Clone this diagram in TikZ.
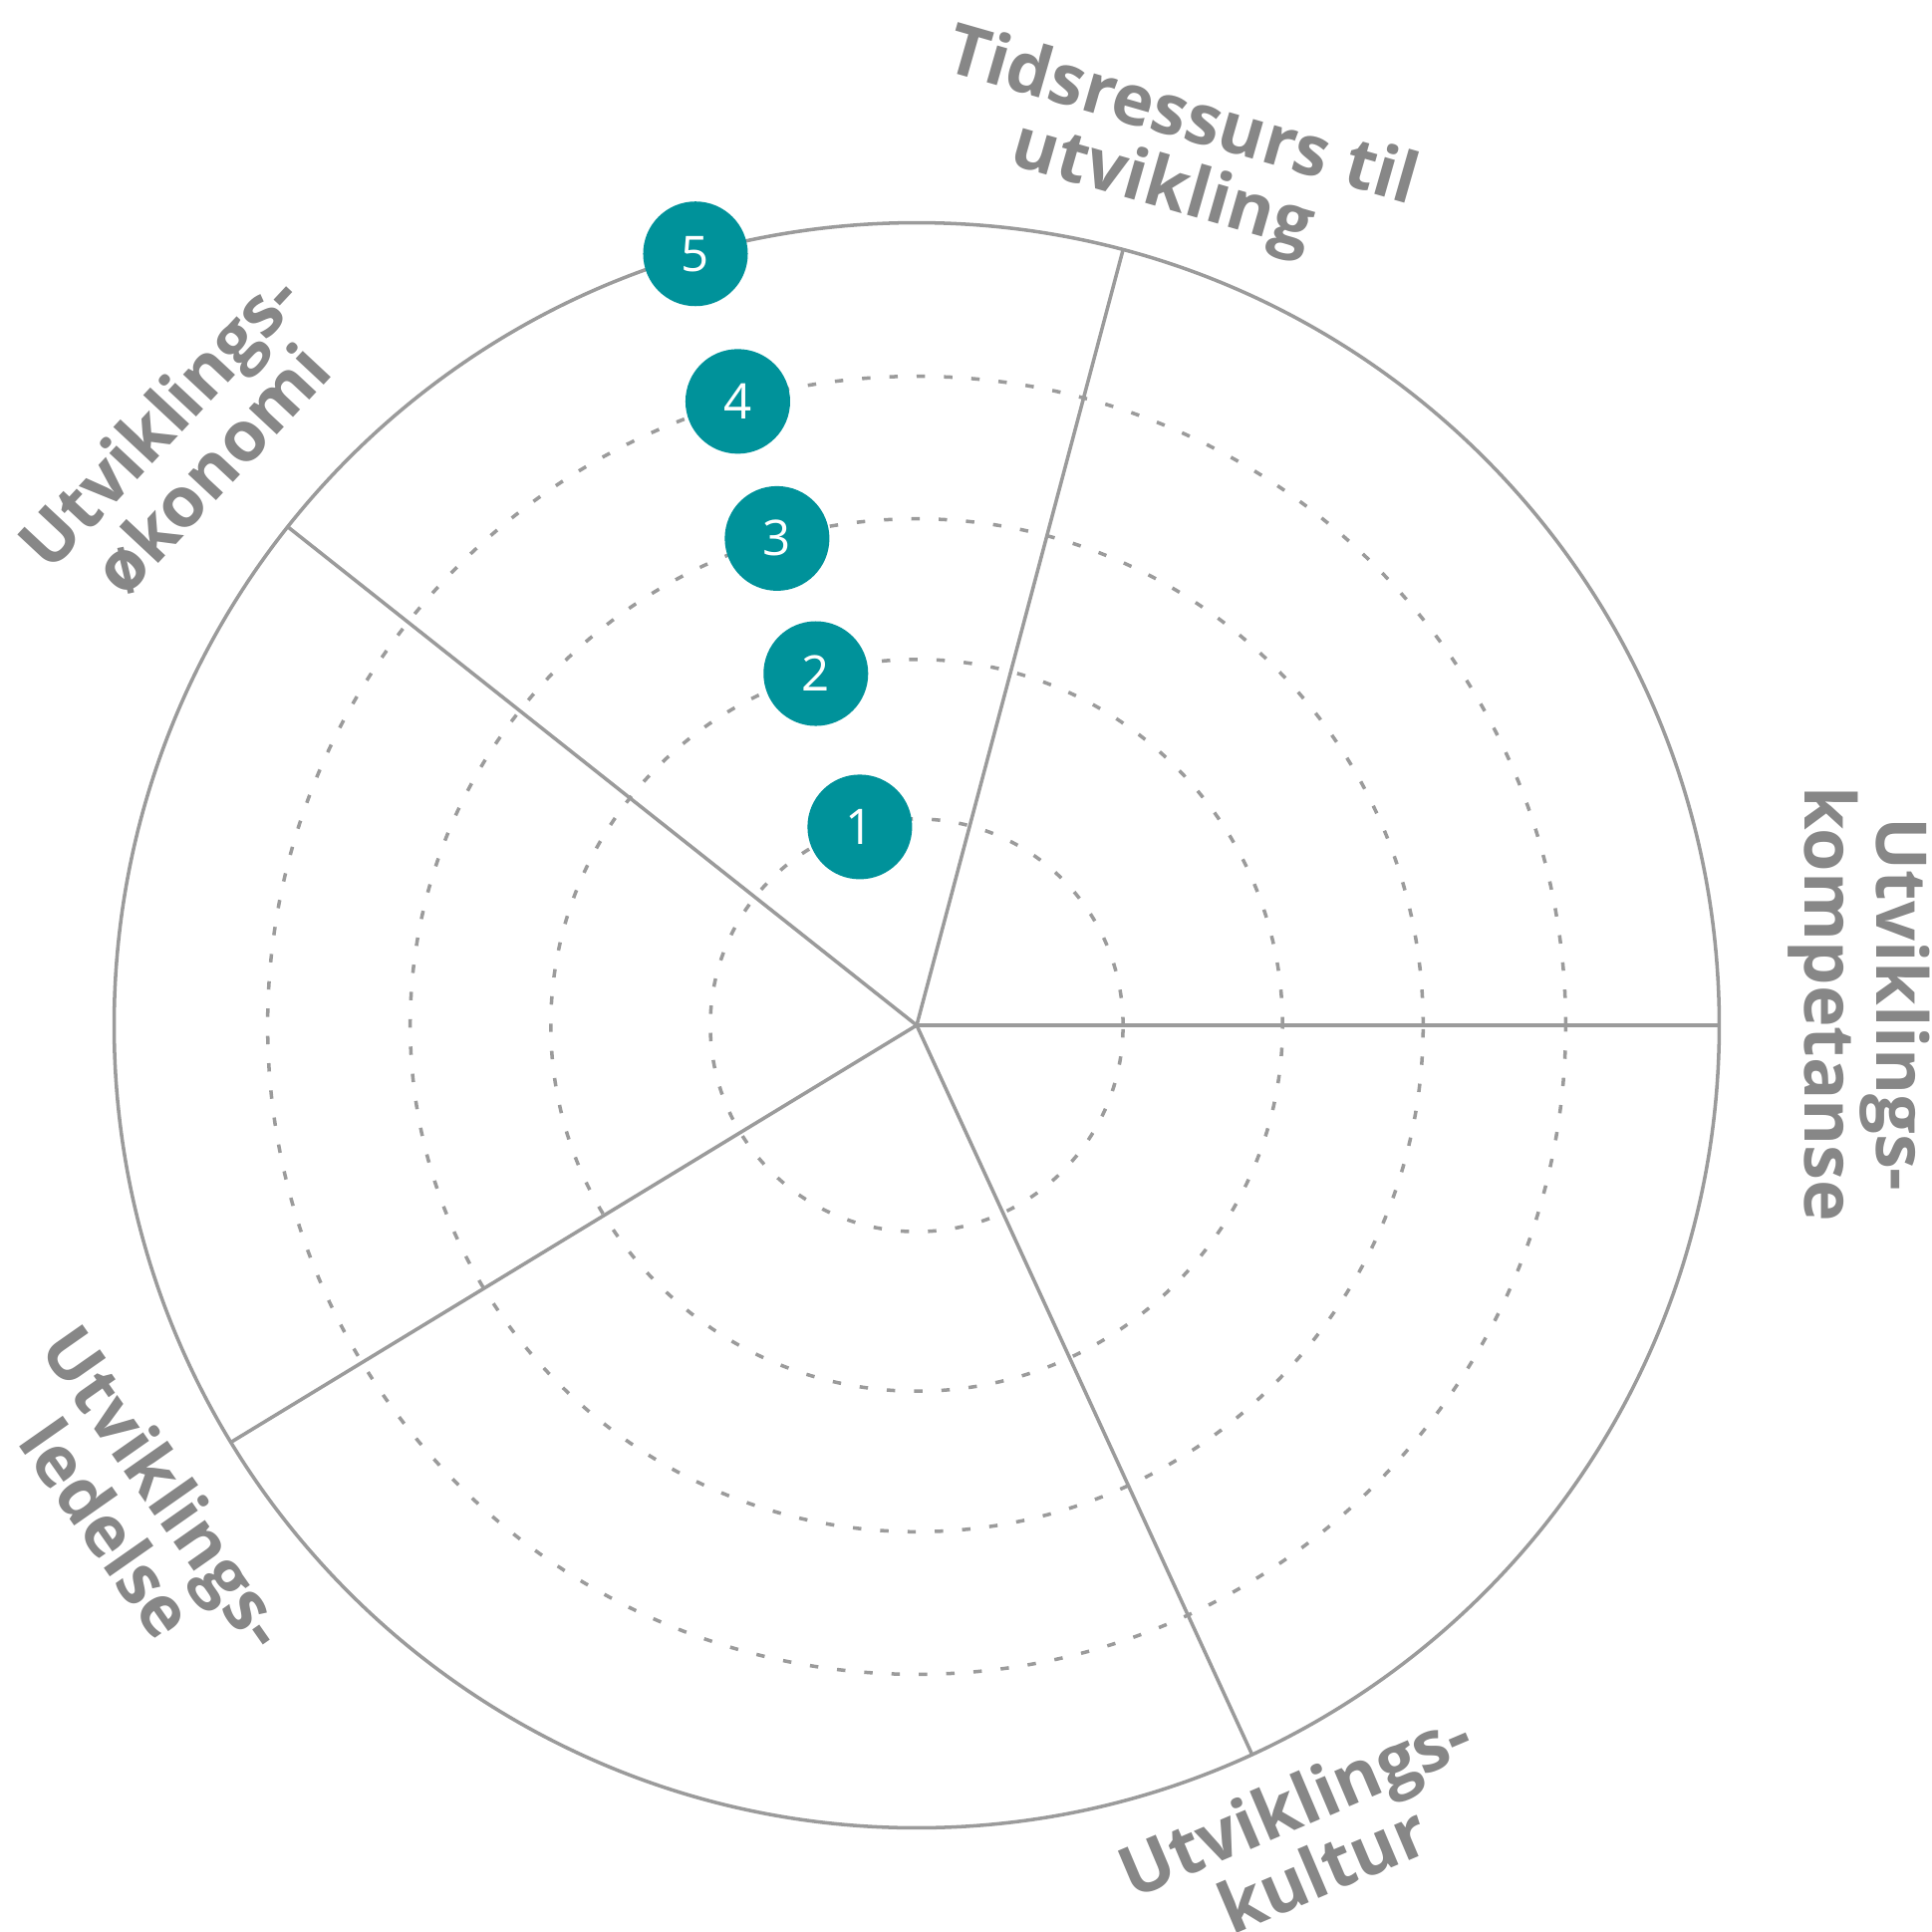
\documentclass[tikz,border=0pt]{standalone}
\usepackage{fontspec}
\setmainfont{Open Sans}
\usetikzlibrary{calc}
\definecolor{linegray}{HTML}{9B9B9B}
\definecolor{textgray}{HTML}{878787}
\definecolor{teal}{HTML}{00929A}
\begin{document}
\begin{tikzpicture}[x=0.01cm,y=-0.01cm,
  gridline/.style={draw=linegray,line width=1pt},
  dotline/.style={draw=linegray,line width=1pt,dash pattern=on 2.4pt off 5.4pt},
  numdot/.style={circle,fill=teal,minimum size=1.05cm,inner sep=0pt,text=white,font=\fontsize{14}{14}\selectfont},
  axislabel/.style={text=textgray,align=center,inner sep=0pt,font=\fontsize{20}{20.5}\selectfont\bfseries}]
\useasboundingbox (0,0) rectangle (1939,1939);
\coordinate (O) at (920,1029);
% dotted rings
\foreach \r in {2.07,3.67,5.08,6.51}{
  \draw[dotline] (O) circle[radius=\r cm];
}
% outer circle
\draw[gridline] (O) circle[radius=8.05cm];
% spokes
\coordinate (s1) at ([shift={(0:8.05cm)}]O);
\coordinate (s2) at ([shift={(75.1:8.05cm)}]O);
\coordinate (s3) at ([shift={(141.6:8.05cm)}]O);
\coordinate (s4) at ([shift={(211.3:8.05cm)}]O);
\coordinate (s5) at ([shift={(-65.3:8.05cm)}]O);
\foreach \s in {s1,s2,s3,s4,s5}{
  \draw[gridline] (O) -- (\s);
}
% numbered markers
\node[numdot] (n1) at ([shift={(106:2.07cm)}]O) {1};
\node[numdot] (n2) at ([shift={(106:3.67cm)}]O) {2};
\node[numdot] (n3) at ([shift={(106:5.08cm)}]O) {3};
\node[numdot] (n4) at ([shift={(106:6.51cm)}]O) {4};
\node[numdot] (n5) at ([shift={(106:8.05cm)}]O) {5};
% labels
\node[axislabel,rotate=-16] (l1) at (1176,155) {Tidsressurs til\\utvikling};
\node[axislabel,rotate=47] (l2) at (186,446) {Utviklings-\\økonomi};
\node[axislabel,rotate=-90] (l3) at (1866,1008) {Utviklings-\\kompetanse};
\node[axislabel,rotate=-55] (l4) at (138,1513) {Utviklings-\\ledelse};
\node[axislabel,rotate=23] (l5) at (1313,1842) {Utviklings-\\kultur};
\end{tikzpicture}
\end{document}
